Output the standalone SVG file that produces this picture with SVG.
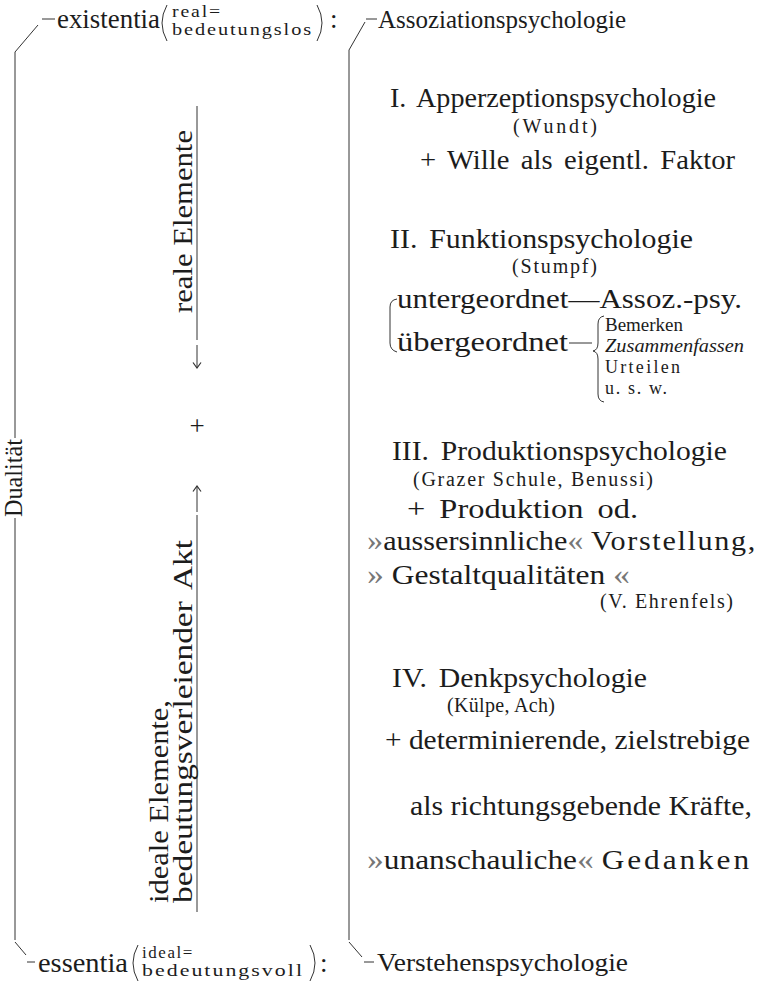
<svg xmlns="http://www.w3.org/2000/svg" width="762" height="991" viewBox="0 0 762 991">
<style>
text{font-family:"Liberation Serif",Tinos,"Times New Roman",Times,serif;fill:#1c1c1c}
.m{font-size:27px}
.a{font-size:25px}
.s{font-size:20px}
.b{font-size:18px}
.t{font-size:16px;letter-spacing:1.5px}
.r{font-size:28px}
.q{font-size:29px;fill:#777}
.ln{fill:none;stroke:#333;stroke-width:1}
</style>
<defs>
<marker id="ah" markerWidth="10" markerHeight="10" refX="9" refY="5" orient="auto" markerUnits="userSpaceOnUse" viewBox="0 0 10 10">
<path d="M3.5,1 L9,5 L3.5,9" fill="none" stroke="#333" stroke-width="1.2"/>
</marker>
</defs>
<rect width="762" height="991" fill="#fff"/>

<g id="connectors">
<path class="ln" d="M15,52 L15,438 M15,518 L15,940"/>
<path class="ln" d="M15,52 L38,25 M42,19 H55"/>
<path class="ln" d="M15,942 L26,955 M27,962 H35"/>
<path class="ln" d="M349,50 L349,940"/>
<path class="ln" d="M349,50 L365,22 M366,19 H377"/>
<path class="ln" d="M349,942 L362,957 M364,962 H374"/>
<path class="ln" d="M197,106 L197,340"/>
<path class="ln" d="M197,345 L197,368" marker-end="url(#ah)"/>
<path class="ln" d="M197,512 L197,486" marker-end="url(#ah)"/>
<path class="ln" d="M197,515 L197,912"/>
<path class="ln" d="M397,299 Q390,300 390,307 L390,343 Q390,350 397,352"/>
<path class="ln" d="M569,343 H592"/>
<path class="ln" d="M604,316 Q598,317 598,324 L598,343 Q598,350 593,351 Q598,352 598,359 L598,394 Q598,401 604,402"/>
<path class="ln" d="M167,5 Q157,23 167,41 M317,5 Q327,23 317,41"/>
<path class="ln" d="M138,945 Q128,963 138,981 M310,945 Q320,963 310,981"/>
</g>

<g id="existentia">
<text class="m" x="57" y="28" textLength="103" lengthAdjust="spacingAndGlyphs">existentia</text>
<text class="t" x="172" y="17" textLength="50" lengthAdjust="spacingAndGlyphs">real=</text>
<text class="t" x="172" y="35" textLength="141" lengthAdjust="spacingAndGlyphs">bedeutungslos</text>
<text class="m" x="330" y="28">:</text>
</g>

<g id="essentia">
<text class="m" x="38" y="972" textLength="90" lengthAdjust="spacingAndGlyphs">essentia</text>
<text class="t" x="142" y="958" textLength="52" lengthAdjust="spacingAndGlyphs">ideal=</text>
<text class="t" x="142" y="976" textLength="162" lengthAdjust="spacingAndGlyphs">bedeutungsvoll</text>
<text class="m" x="320" y="972">:</text>
</g>

<g id="dualitaet">
<text class="a" transform="translate(22,517) rotate(-90)" textLength="78" lengthAdjust="spacingAndGlyphs">Dualität</text>
</g>

<g id="reale">
<text class="r" transform="translate(192,313) rotate(-90)" textLength="183" lengthAdjust="spacingAndGlyphs">reale Elemente</text>
</g>

<g id="plus">
<text class="m" x="197" y="435" text-anchor="middle">+</text>
</g>

<g id="ideale">
<text class="r" transform="translate(168,903) rotate(-90)" textLength="203" lengthAdjust="spacingAndGlyphs">ideale Elemente,</text>
<text class="r" transform="translate(192,903) rotate(-90)" textLength="363" lengthAdjust="spacingAndGlyphs" style="word-spacing:4px">bedeutungsverleiender Akt</text>
</g>

<g id="assoziation">
<text class="a" x="378" y="28" textLength="248" lengthAdjust="spacingAndGlyphs">Assoziationspsychologie</text>
</g>

<g id="apperzeption">
<text class="m" x="390" y="107" textLength="326" lengthAdjust="spacingAndGlyphs" style="word-spacing:4px">I. Apperzeptionspsychologie</text>
<text class="s" x="513" y="133" textLength="84" lengthAdjust="spacing">(Wundt)</text>
<text class="m" x="420" y="169" textLength="315" lengthAdjust="spacingAndGlyphs" style="word-spacing:4px">+ Wille als eigentl. Faktor</text>
</g>

<g id="funktion">
<text class="m" x="390" y="248" textLength="303" lengthAdjust="spacingAndGlyphs" style="word-spacing:4px">II. Funktionspsychologie</text>
<text class="s" x="512" y="273" textLength="85" lengthAdjust="spacing">(Stumpf)</text>
<text class="m" x="397" y="308" textLength="345" lengthAdjust="spacingAndGlyphs">untergeordnet—Assoz.-psy.</text>
<text class="m" x="397" y="351" textLength="171" lengthAdjust="spacingAndGlyphs">übergeordnet</text>
<text class="b" x="605" y="331" textLength="78" lengthAdjust="spacingAndGlyphs">Bemerken</text>
<text class="b" x="605" y="352" textLength="139" lengthAdjust="spacingAndGlyphs" font-style="italic">Zusammenfassen</text>
<text class="b" x="605" y="373" textLength="75" lengthAdjust="spacing">Urteilen</text>
<text class="b" x="605" y="394" textLength="62" lengthAdjust="spacing">u. s. w.</text>
</g>

<g id="produktion">
<text class="m" x="392" y="460" textLength="335" lengthAdjust="spacingAndGlyphs" style="word-spacing:4px">III. Produktionspsychologie</text>
<text class="s" x="413" y="486" textLength="240" lengthAdjust="spacing">(Grazer Schule, Benussi)</text>
<text class="m" x="407" y="518" textLength="231" lengthAdjust="spacingAndGlyphs" style="word-spacing:5px">+ Produktion od.</text>
<text class="m" x="367" y="550" textLength="390" lengthAdjust="spacingAndGlyphs"><tspan class="q">»</tspan>aussersinnliche<tspan class="q">«</tspan> <tspan style="letter-spacing:1.5px">Vorstellung,</tspan></text>
<text class="m" x="367" y="584" textLength="263" lengthAdjust="spacingAndGlyphs"><tspan class="q">»</tspan> Gestaltqualitäten <tspan class="q">«</tspan></text>
<text class="s" x="600" y="608" textLength="133" lengthAdjust="spacing">(V. Ehrenfels)</text>
</g>

<g id="denk">
<text class="m" x="392" y="687" textLength="255" lengthAdjust="spacingAndGlyphs" style="word-spacing:4px">IV. Denkpsychologie</text>
<text class="s" x="447" y="712" textLength="108" lengthAdjust="spacing">(Külpe, Ach)</text>
<text class="m" x="385" y="749" textLength="365" lengthAdjust="spacingAndGlyphs">+ determinierende, zielstrebige</text>
<text class="m" x="410" y="815" textLength="342" lengthAdjust="spacingAndGlyphs">als richtungsgebende Kräfte,</text>
<text class="m" x="367" y="869" textLength="385" lengthAdjust="spacingAndGlyphs"><tspan class="q">»</tspan>unanschauliche<tspan class="q">«</tspan> <tspan style="letter-spacing:2.5px">Gedanken</tspan></text>
</g>

<g id="verstehen">
<text class="a" x="377" y="971" textLength="251" lengthAdjust="spacingAndGlyphs">Verstehenspsychologie</text>
</g>
</svg>
